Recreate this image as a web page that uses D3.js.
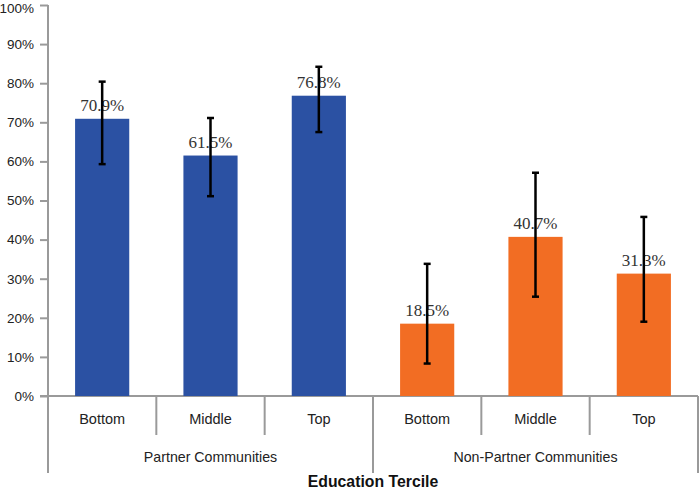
<!DOCTYPE html>
<html><head><meta charset="utf-8">
<script src="https://cdn.jsdelivr.net/npm/d3@7"></script>
<style>body{margin:0;background:#fff}svg{display:block}</style>
</head><body>
<svg id="c" width="699" height="491"></svg>
<script>
const groups = ["Partner Communities", "Non-Partner Communities"];
const terciles = ["Bottom", "Middle", "Top"];
const values = [70.9, 61.5, 76.8, 18.5, 40.7, 31.3];
const errLow = [59.3, 51.1, 67.5, 8.3, 25.4, 19.0];
const errHigh = [80.4, 71.1, 84.2, 33.8, 57.1, 45.8];
const yTicks = [0, 10, 20, 30, 40, 50, 60, 70, 80, 90, 100];
const groupColors = ["#2B51A3", "#F26D23"];

(function () {
const svg = d3.select("#c");
const mLeft = 48, mRight = 698, mTop = 5, mBottom = 396;
const keys = values.map((v, i) => i);
const x = d3.scaleBand().domain(keys).range([mLeft, mRight]).paddingInner(0.5).paddingOuter(0.25);
const y = d3.scaleLinear().domain([0, 100]).range([mBottom, mTop]);
const step = x.step();
const axisColor = "#9a9a9a";

// y axis
const yAxis = svg.append("g").attr("transform", `translate(${mLeft},0)`)
  .call(d3.axisLeft(y).tickValues(yTicks).tickSize(8).tickPadding(6).tickFormat(d => d + "%"));
yAxis.select(".domain").remove();
yAxis.selectAll(".tick line").attr("stroke", axisColor).attr("stroke-width", 2);
yAxis.selectAll(".tick text").attr("fill", "#222").attr("font-family", "Liberation Sans, Arial, sans-serif").attr("font-size", 13.5);
// keep the top label inside the frame
yAxis.selectAll(".tick text").filter(d => d === 100).attr("dy", "0.56em");
svg.append("line").attr("x1", mLeft).attr("x2", mLeft).attr("y1", mTop).attr("y2", 473)
  .attr("stroke", axisColor).attr("stroke-width", 2);
// x axis baseline
svg.append("line").attr("x1", mLeft - 8).attr("x2", mRight).attr("y1", mBottom).attr("y2", mBottom)
  .attr("stroke", axisColor).attr("stroke-width", 2);

// dividers
for (let i = 1; i <= keys.length; i++) {
  const xx = mLeft + i * step;
  const isGroup = i % terciles.length === 0;
  svg.append("line").attr("x1", xx).attr("x2", xx).attr("y1", mBottom).attr("y2", isGroup ? 473 : 435)
    .attr("stroke", axisColor).attr("stroke-width", 2);
}

// bars
svg.append("g").selectAll("rect").data(values).join("rect")
  .attr("x", (d, i) => x(i)).attr("width", x.bandwidth())
  .attr("y", d => y(d)).attr("height", d => mBottom - y(d))
  .attr("fill", (d, i) => groupColors[Math.floor(i / terciles.length)]);

// labels
svg.append("g").selectAll("text").data(values).join("text")
  .attr("x", (d, i) => x(i) + x.bandwidth() / 2).attr("y", d => y(d) - 8)
  .attr("text-anchor", "middle").attr("font-family", "Liberation Serif, Times New Roman, serif")
  .attr("font-size", 17).attr("fill", "#333").text(d => d.toFixed(1) + "%");

// error bars
const eg = svg.append("g").attr("stroke", "#000").attr("stroke-width", 2.5);
values.forEach((v, i) => {
  const cx = x(i) + x.bandwidth() / 2;
  eg.append("line").attr("x1", cx).attr("x2", cx).attr("y1", y(errLow[i])).attr("y2", y(errHigh[i]));
  eg.append("line").attr("x1", cx - 3.5).attr("x2", cx + 3.5).attr("y1", y(errLow[i])).attr("y2", y(errLow[i]));
  eg.append("line").attr("x1", cx - 3.5).attr("x2", cx + 3.5).attr("y1", y(errHigh[i])).attr("y2", y(errHigh[i]));
});

// category labels
values.forEach((v, i) => {
  svg.append("text").attr("x", x(i) + x.bandwidth() / 2).attr("y", 424)
    .attr("text-anchor", "middle").attr("font-family", "Liberation Sans, Arial, sans-serif")
    .attr("font-size", 14.5).attr("fill", "#222").text(terciles[i % terciles.length]);
});
groups.forEach((g, gi) => {
  svg.append("text").attr("x", mLeft + (gi * 3 + 1.5) * step).attr("y", 462)
    .attr("text-anchor", "middle").attr("font-family", "Liberation Sans, Arial, sans-serif")
    .attr("font-size", 14.2).attr("fill", "#222").text(g);
});
svg.append("text").attr("x", mLeft + 3 * step).attr("y", 487)
  .attr("text-anchor", "middle").attr("font-family", "Liberation Sans, Arial, sans-serif")
  .attr("font-size", 15.8).attr("font-weight", "bold").attr("fill", "#111").text("Education Tercile");
})();
</script>
</body></html>
